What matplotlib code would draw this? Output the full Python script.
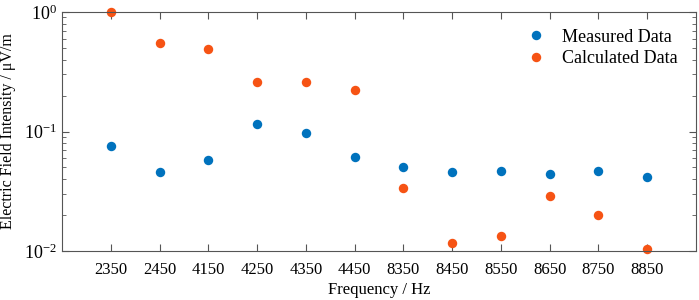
import matplotlib.pyplot as plt
from matplotlib.ticker import LogLocator, NullFormatter

freqs = ["2350", "2450", "4150", "4250", "4350", "4450",
         "8350", "8450", "8550", "8650", "8750", "8850"]
measured = [0.0752, 0.0458, 0.0574, 0.1155, 0.097, 0.0612,
            0.0505, 0.0455, 0.0465, 0.0444, 0.0467, 0.0416]
calculated = [1.0, 0.547, 0.493, 0.261, 0.261, 0.221,
              0.0334, 0.01174, 0.01343, 0.029, 0.0199, 0.01033]

plt.rcParams["font.family"] = ["Liberation Serif", "DejaVu Serif"]
plt.rcParams["mathtext.fontset"] = "stix"

fig = plt.figure(figsize=(6.99, 3.0), dpi=100)
ax = fig.add_axes([62 / 699, 1 - 251 / 300, 634 / 699, 239 / 300])

pos = list(range(1, len(freqs) + 1))
ax.plot(pos, measured, "o", color="#0072BD", markersize=6.8,
        markeredgewidth=0, label="Measured Data")
ax.plot(pos, calculated, "o", color="#F65314", markersize=6.8,
        markeredgewidth=0, label="Calculated Data", clip_on=False)

ax.set_yscale("log")
ax.set_ylim(0.01, 1)
ax.set_xlim(0, len(freqs) + 1)
ax.set_xticks(pos)
ax.set_xticklabels(freqs)
ax.yaxis.set_minor_locator(LogLocator(base=10, subs=range(2, 10)))
ax.yaxis.set_minor_formatter(NullFormatter())

for s in ax.spines.values():
    s.set_color("#555555")
    s.set_linewidth(0.8)
ax.tick_params(which="both", direction="in", top=True, right=True,
               colors="#555555", labelcolor="black", labelsize=12)
ax.tick_params(axis="x", pad=8)
ax.tick_params(axis="y", labelsize=13)
ax.tick_params(which="major", length=5)
ax.tick_params(which="minor", length=3)

ax.set_xlabel("Frequency / Hz", fontsize=12, labelpad=3)
ax.set_ylabel("Electric Field Intensity / \u03bcV/m", fontsize=11.5,
              labelpad=6)

ax.legend(loc="upper right", frameon=False, fontsize=13, handletextpad=0.4,
          labelspacing=0.25, borderaxespad=0,
          bbox_to_anchor=(0.982, 0.96))

fig.savefig("out.png", dpi=100)
